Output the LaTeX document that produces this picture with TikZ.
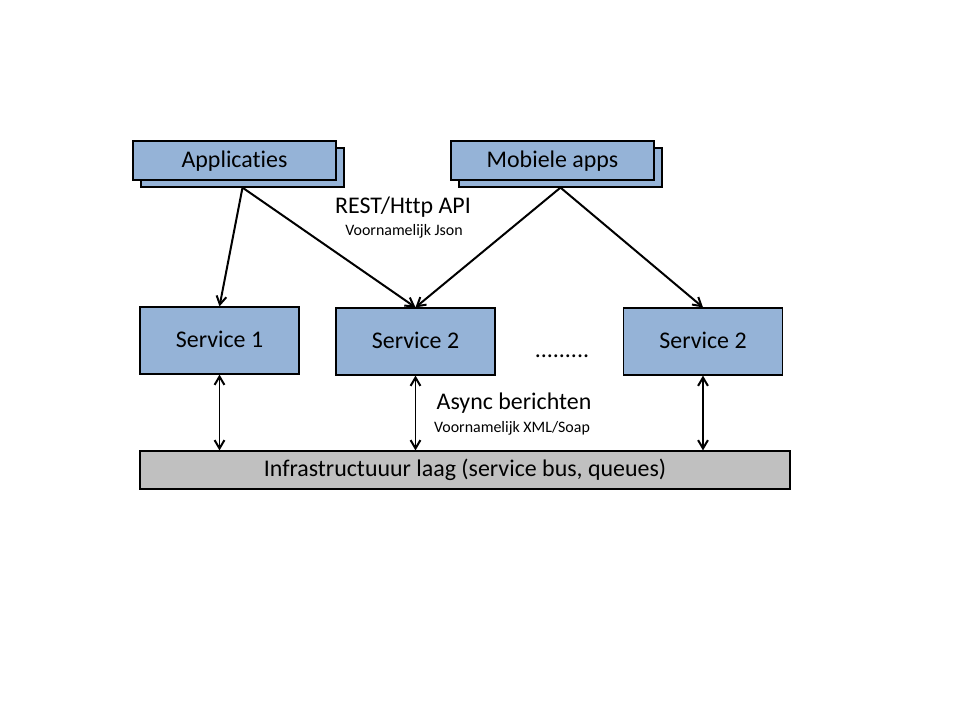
\documentclass[tikz,border=0pt]{standalone}
\usepackage{fontspec}
\setmainfont{Carlito}[Ligatures={NoCommon}]
\usetikzlibrary{positioning,arrows.meta,calc}
\definecolor{boxblue}{RGB}{149,179,215}
\definecolor{bargray}{RGB}{192,192,192}

\begin{document}
\begin{tikzpicture}[
    x=0.75bp, y=-0.75bp,
    client/.style={draw, fill=boxblue, line width=0.9pt, minimum width=152.25bp, minimum height=29.25bp, text height=14pt, text depth=3.5pt, font=\fontsize{18}{20}\selectfont},
    svc/.style={draw, fill=boxblue, line width=0.9pt, minimum width=119.25bp, minimum height=50.25bp, text height=14pt, text depth=3.5pt, font=\fontsize{18}{20}\selectfont},
    bus/.style={draw, fill=bargray, line width=0.9pt, minimum width=487.5bp, minimum height=28.5bp, text height=14pt, text depth=3.5pt, font=\fontsize{18}{20}\selectfont},
    arr/.style={-{Straight Barb[length=2.2mm, width=2.6mm]}, line width=1.5pt},
    darr/.style={{Straight Barb[length=2.2mm, width=2.6mm]}-{Straight Barb[length=2.2mm, width=2.6mm]}, line width=1.5pt}
]
\useasboundingbox (0,0) rectangle (960,720);

% clients, each with a shadow copy behind it
\node[client] (appback) at (242.5,167.5) {};
\node[client] (app) at (234.5,160.5) {Applicaties};
\node[client] (mobback) at (560.5,167.5) {};
\node[client] (mob) at (552.5,160.5) {Mobiele apps};

% services
\node[svc] (svcA) at (219.5,340.5) {Service 1};
\node[svc] (svcB) at (415.5,341.5) {Service 2};
\node[svc] (svcC) at (703,341.5) {Service 2};
\node[anchor=base, font=\fontsize{18}{20}\selectfont] (dots) at (562,357) {.........};

\node[bus] (infra) at (465,470) {Infrastructuuur laag (service bus, queues)};

% labels
\node[font=\fontsize{18}{20}\selectfont] (rest) at (403,207) {REST/Http API};
\node[font=\fontsize{12}{14}\selectfont] (json) at (404,231) {Voornamelijk Json};
\node[font=\fontsize{18}{20}\selectfont] (async) at (514,403) {Async berichten};
\node[font=\fontsize{12}{14}\selectfont] (xml) at (512,428) {Voornamelijk XML/Soap};

\draw[arr] (appback.south) -- (svcA.north);
\draw[arr] (appback.south) -- (svcB.north);
\draw[arr] (mobback.south) -- (svcB.north);
\draw[arr] (mobback.south) -- (svcC.north);

\draw[darr] (svcA.south) -- (svcA.south |- infra.north);
\draw[darr] (svcB.south) -- (svcB.south |- infra.north);
\draw[darr] (svcC.south) -- (svcC.south |- infra.north);
\end{tikzpicture}
\end{document}
